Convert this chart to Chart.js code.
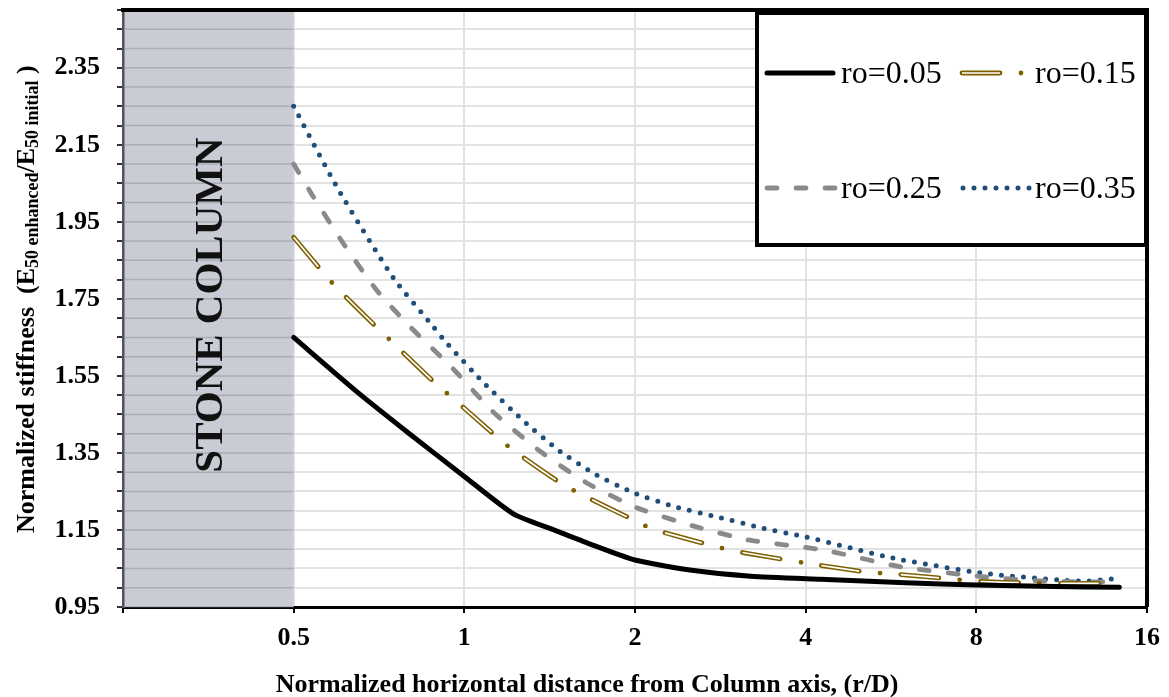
<!DOCTYPE html>
<html>
<head>
<meta charset="utf-8">
<script src="https://cdn.jsdelivr.net/npm/chart.js@4.4.0/dist/chart.umd.min.js"></script>
<style>
  body { margin: 0; background: #fff; }
  #wrap { width: 1169px; height: 697px; }
</style>
</head>
<body>
<div id="wrap"><canvas id="plot" width="1169" height="697"></canvas></div>
<script>
// r/D and normalized stiffness
let rD005 = [0.5, 0.65, 0.8, 1.0, 1.22, 1.44, 1.65, 2, 2.5, 3.2, 4.25, 6, 8, 11, 14.3]
let ro005 = [1.65, 1.506, 1.40, 1.289, 1.192, 1.15, 1.116, 1.072, 1.046, 1.03, 1.022, 1.013, 1.007, 1.003, 1.001]

let rD015 = [0.5, 0.585, 0.694, 0.74, 0.88, 1.0, 1.2, 1.47, 1.59, 2.0, 2.15, 2.76, 3.0, 4.0, 5.1, 5.7, 7.2, 7.9, 10.2, 14.3]
let ro015 = [1.91, 1.791, 1.682, 1.643, 1.537, 1.466, 1.365, 1.274, 1.246, 1.174, 1.152, 1.108, 1.095, 1.064, 1.041, 1.036, 1.023, 1.017, 1.012, 1.011]

let rD025 = [0.5, 0.539, 0.611, 0.70, 0.803, 0.953, 1.125, 1.35, 1.636, 2.02, 2.54, 3.17, 4.3, 5.9, 8.3, 10.6, 14.3]
let ro025 = [2.10, 2.02, 1.895, 1.773, 1.677, 1.570, 1.456, 1.358, 1.274, 1.207, 1.160, 1.124, 1.098, 1.054, 1.028, 1.017, 1.015]

let rD035 = [0.5, 0.6, 0.75, 0.88, 0.93, 1.08, 1.27, 1.46, 1.7, 2, 2.37, 2.83, 3.37, 4, 5.7, 8.2, 11.2, 12.4, 14.3]
let ro035 = [2.25, 2.033, 1.804, 1.679, 1.636, 1.533, 1.434, 1.359, 1.295, 1.245, 1.209, 1.182, 1.154, 1.132, 1.077, 1.038, 1.02, 1.017, 1.025]

let seriesNames = ['ro=0.05', 'ro=0.15', 'ro=0.25', 'ro=0.35']

let xTicks = [0.25, 0.5, 1, 2, 4, 8, 16]
let xTickLabels = ['', '0.5', '1', '2', '4', '8', '16']
let yTickLabels = ['0.95', '1.15', '1.35', '1.55', '1.75', '1.95', '2.15', '2.35']

// stone column zone on the r/D axis
let columnFrom = 0.25
let columnTo = 0.5

let serif = "'Liberation Serif', 'Times New Roman', serif"
Chart.defaults.font.family = serif

let toXY = (xs, ys) => xs.map((x, i) => ({x: x, y: ys[i]}))

//estilos de las series (tambien se usan en la leyenda)
let estilos = {
  black: {color: '#000000', width: 5, dash: [], cap: 'round'},
  gold: {color: '#7f6000', width: 4.8, dash: [38, 21, 0, 21], cap: 'round'},
  goldInner: {color: '#ffffff', width: 1.7, dash: [38, 21, 0, 21], cap: 'butt'},
  gray: {color: '#8a8a8a', width: 4.8, dash: [10, 19], cap: 'round'},
  blue: {color: '#1f4e79', width: 5, dash: [0, 11], cap: 'round'}
}

let makeDataset = (label, xs, ys, est, order) => ({
  label: label,
  data: toXY(xs, ys),
  borderColor: est.color,
  borderWidth: est.width,
  borderDash: est.dash,
  borderCapStyle: est.cap,
  borderJoinStyle: 'round',
  pointRadius: 0,
  tension: 0.2,
  fill: false,
  order: order
})

let strokeSample = (ctx, est, x1, x2, y) => {
  ctx.save()
  ctx.strokeStyle = est.color
  ctx.lineWidth = est.width
  ctx.setLineDash(est.dash)
  ctx.lineCap = est.cap
  ctx.beginPath()
  ctx.moveTo(x1, y)
  ctx.lineTo(x2, y)
  ctx.stroke()
  ctx.restore()
}

let stoneColumn = {
  id: 'stoneColumn',
  beforeDatasetsDraw(chart) {
    let {ctx, chartArea, scales} = chart
    let x0 = scales.x.getPixelForValue(columnFrom)
    let x1 = scales.x.getPixelForValue(columnTo)
    ctx.save()
    ctx.fillStyle = '#c9ccd5'
    ctx.fillRect(x0 + 1.5, chartArea.top, x1 - x0 - 1.5, chartArea.bottom - chartArea.top)
    ctx.strokeStyle = 'rgba(110,114,124,0.35)'
    ctx.lineWidth = 1.5
    scales.y.ticks.forEach(t => {
      let y = scales.y.getPixelForValue(t.value)
      ctx.beginPath()
      ctx.moveTo(x0 + 2, y)
      ctx.lineTo(x1, y)
      ctx.stroke()
    })
    ctx.translate((x0 + x1) / 2 + 1, 305)
    ctx.rotate(-Math.PI / 2)
    ctx.fillStyle = '#111111'
    ctx.font = 'bold 41px ' + serif
    ctx.textAlign = 'center'
    ctx.textBaseline = 'middle'
    ctx.fillText('STONE COLUMN', 0, 2)
    ctx.restore()
  }
}

let frameAndLegend = {
  id: 'frameAndLegend',
  afterDatasetsDraw(chart) {
    let {ctx, chartArea} = chart
    ctx.save()
    //marco superior y derecho
    ctx.strokeStyle = '#000'
    ctx.lineWidth = 4
    ctx.beginPath()
    ctx.moveTo(chartArea.left - 2, chartArea.top)
    ctx.lineTo(chartArea.right, chartArea.top)
    ctx.lineTo(chartArea.right, chartArea.bottom)
    ctx.stroke()

    //leyenda
    ctx.fillStyle = '#fff'
    ctx.fillRect(757, 13, 389, 232)
    ctx.strokeRect(757, 13, 389, 232)

    strokeSample(ctx, estilos.black, 767, 833, 73)
    strokeSample(ctx, estilos.gold, 962, 1030, 73)
    strokeSample(ctx, estilos.goldInner, 962, 1030, 73)
    strokeSample(ctx, estilos.gray, 767, 836, 188)
    strokeSample(ctx, estilos.blue, 963, 1030, 188)

    ctx.fillStyle = '#000'
    ctx.font = '32px ' + serif
    ctx.textBaseline = 'middle'
    ctx.textAlign = 'left'
    ctx.fillText(seriesNames[0], 841, 75)
    ctx.fillText(seriesNames[1], 1035, 75)
    ctx.fillText(seriesNames[2], 841, 190)
    ctx.fillText(seriesNames[3], 1035, 190)
    ctx.restore()
  }
}

let axisTitles = {
  id: 'axisTitles',
  afterDraw(chart) {
    let {ctx} = chart
    ctx.save()
    ctx.fillStyle = '#000'
    ctx.font = 'bold 26px ' + serif
    ctx.textAlign = 'center'
    ctx.textBaseline = 'alphabetic'
    ctx.fillText('Normalized horizontal distance from Column axis, (r/D)', 587, 692)

    //titulo vertical con subindices
    let partes = [
      {t: 'Normalized stiffness  (E', size: 26, sub: false},
      {t: '50 enhanced', size: 18, sub: true},
      {t: '/E', size: 26, sub: false},
      {t: '50 initial', size: 18, sub: true},
      {t: ' )', size: 26, sub: false}
    ]
    ctx.translate(25, 533)
    ctx.rotate(-Math.PI / 2)
    ctx.textAlign = 'left'
    let x = 0
    partes.forEach(p => {
      ctx.font = 'bold ' + p.size + 'px ' + serif
      ctx.fillText(p.t, x, p.sub ? 13 : 9)
      x += ctx.measureText(p.t).width
    })
    ctx.restore()
  }
}

let plotRef = document.getElementById('plot')

let config = {
  type: 'line',
  data: {
    datasets: [
      makeDataset(seriesNames[0], rD005, ro005, estilos.black, 0),
      makeDataset(seriesNames[1] + ' inner', rD015, ro015, estilos.goldInner, 1),
      makeDataset(seriesNames[1], rD015, ro015, estilos.gold, 2),
      makeDataset(seriesNames[2], rD025, ro025, estilos.gray, 3),
      makeDataset(seriesNames[3], rD035, ro035, estilos.blue, 4)
    ]
  },
  options: {
    responsive: false,
    animation: false,
    events: [],
    layout: {padding: {top: 10, right: 22, left: 0, bottom: 0}},
    plugins: {
      legend: {display: false},
      tooltip: {enabled: false}
    },
    scales: {
      x: {
        type: 'logarithmic',
        min: 0.25,
        max: 16,
        afterBuildTicks: scale => { scale.ticks = xTicks.map(v => ({value: v})) },
        afterFit: scale => {
          scale.height = 90
          scale.paddingLeft = 0
          scale.paddingRight = 0
        },
        grid: {color: '#e2e2e2', lineWidth: 2, tickColor: '#000', tickLength: 6},
        border: {color: '#000', width: 3},
        ticks: {
          autoSkip: false,
          maxRotation: 0,
          padding: 10,
          color: '#000',
          font: {size: 26, weight: 'bold'},
          callback: v => xTickLabels[xTicks.indexOf(v)]
        }
      },
      y: {
        min: 0.95,
        max: 2.5,
        afterFit: scale => {
          scale.width = 123
          scale.paddingTop = 0
          scale.paddingBottom = 0
        },
        grid: {color: '#e2e2e2', lineWidth: 2, tickColor: '#333', tickLength: 6},
        border: {color: '#4d525c', width: 3},
        ticks: {
          stepSize: 0.05,
          autoSkip: false,
          padding: 17,
          color: '#000',
          font: {size: 26, weight: 'bold'},
          callback: v => {
            let s = Number(v).toFixed(2)
            return yTickLabels.includes(s) ? s : ''
          }
        }
      }
    }
  },
  plugins: [stoneColumn, frameAndLegend, axisTitles]
}

let chart1 = new Chart(plotRef, config)
</script>
</body>
</html>
